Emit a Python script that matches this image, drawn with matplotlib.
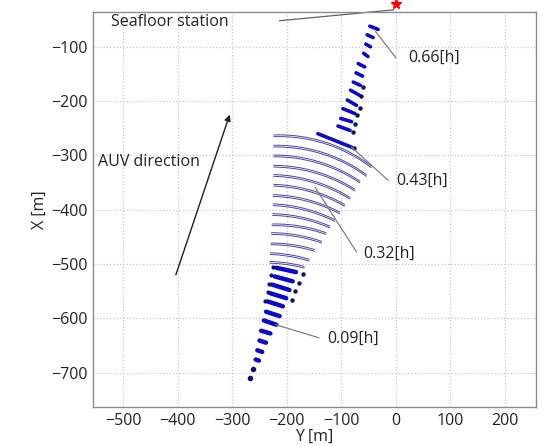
import numpy as np
import matplotlib
matplotlib.use("Agg")
import matplotlib.pyplot as plt

plt.rcParams['font.family'] = ['Open Sans', 'DejaVu Sans']

# ---------------- data (Y [m] horizontal, X [m] vertical) ----------------
station_y, station_x = 0, -21

# upper short thick dashes: left end (y0,x0) -> right end (y1,x1)
up_y0 = [-47.7, -52.6, -55, -59, -69, -73, -78, -83, -89, -97, -101, -106, -143]
up_x0 = [-62, -78, -95, -112, -131, -148, -165, -180, -198, -214, -232, -246, -260]
up_y1 = [-32.5, -41.6, -46.5, -51, -57, -61, -65, -67, -72, -75, -81, -84, -81]
up_x1 = [-68, -83, -100, -118, -137, -154, -171, -189, -208, -223, -238, -254, -285]
up_dot_y = [-61, -63, -66, -72, -75, -79, -76]
up_dot_x = [-174, -191, -212, -226, -243, -257, -287]

# middle thin arcs: left end -> right end
arc_y0 = [-224, -224, -224, -224, -224, -224, -225, -225, -226, -227, -228, -229, -230, -231]
arc_x0 = [-264, -283, -301, -320, -337, -355, -374, -391, -409, -428, -444, -463, -481, -497]
arc_y1 = [-45, -54, -66, -75, -84, -94, -103, -112, -121, -128, -136, -149, -159, -168]
arc_x1 = [-321, -337, -349, -364, -379, -392, -406, -420, -432, -444, -460, -475, -493, -506]

# lower thick dashes
lo_y0 = [-219, -222, -227, -230, -235, -238, -242, -247, -250, -254, -257]
lo_x0 = [-507, -523, -538, -554, -569, -588, -604, -623, -641, -659, -676]
lo_y1 = [-183, -189, -195, -201, -207, -213, -219, -230, -238, -245, -251]
lo_x1 = [-515, -532, -548, -563, -578, -596, -612, -628, -645, -662, -678]
lo_rdot_y = [-170, -178, -185, -190]
lo_rdot_x = [-518, -535, -550, -566]
lo_ldot_y = [-226, -229, -232, -235, -239]
lo_ldot_x = [-505, -521, -537, -552, -568]
end_dot_y = [-262, -268]
end_dot_x = [-693, -710]

x_ticks = [-500, -400, -300, -200, -100, 0, 100, 200]
y_ticks = [-700, -600, -500, -400, -300, -200, -100]

# labels: text, text position, leader start, leader end
ann_text = ['0.66[h]', '0.43[h]', '0.32[h]', '0.09[h]']
ann_pos_y = [22, 1, -60, -125]
ann_pos_x = [-121, -346, -482, -638]
ann_from_y = [-37, -81, -148, -220]
ann_from_x = [-72, -285, -359, -612]
ann_to_y = [0, -14, -72, -141]
ann_to_x = [-120, -346, -478, -636]

# ---------------- figure ----------------
fig = plt.figure(figsize=(5.48, 4.46), dpi=100)
ax = fig.add_axes([0.170, 0.0874, 0.808, 0.885])

ax.set_xlim(-555, 257)
ax.set_ylim(-763.5, -36.5)
ax.set_xticks(x_ticks)
ax.set_yticks(y_ticks)
ax.grid(True, color='#c8c8c8', linestyle=':', linewidth=0.9)
ax.set_axisbelow(True)
for s in ax.spines.values():
    s.set_color('#8c8c8c')
    s.set_linewidth(1.0)
ax.tick_params(direction='in', length=0, labelsize=11.5, colors='#222222', pad=4)
ax.set_xlabel('Y [m]', fontsize=11.5, color='#222222', labelpad=0)
ax.set_ylabel('X [m]', fontsize=11.5, color='#222222', labelpad=2)

blue = '#0b0bc8'
navy = '#10106a'
arc_c = '#4646a6'


def arc_pts(p0, p1, R=280.0, n=60):
    p0 = np.asarray(p0, float); p1 = np.asarray(p1, float)
    m = (p0 + p1) / 2
    d = p1 - p0
    c = np.hypot(*d)
    nrm = np.array([-d[1], d[0]]) / c
    if nrm[1] > 0:
        nrm = -nrm
    h = np.sqrt(max(R**2 - (c / 2) ** 2, 0))
    ctr = m + h * nrm
    a0 = np.arctan2(*(p0 - ctr)[::-1])
    a1 = np.arctan2(*(p1 - ctr)[::-1])
    t = np.linspace(a0, a1, n)
    return ctr[0] + R * np.cos(t), ctr[1] + R * np.sin(t)


# thin arcs (double stroke)
for y0, x0, y1, x1 in zip(arc_y0, arc_x0, arc_y1, arc_x1):
    for off in (-1.6, 1.6):
        px, py = arc_pts((y0, x0 + off), (y1, x1 + off))
        ax.plot(px, py, color=arc_c, lw=0.7, solid_capstyle='round')

# upper dashes
for y0, x0, y1, x1 in zip(up_y0, up_x0, up_y1, up_x1):
    ax.plot([y0, y1], [x0, x1], color=blue, lw=2.6, solid_capstyle='round')
ax.plot(up_dot_y, up_dot_x, 'o', color=navy, ms=2.2, lw=0)

# lower dashes
for y0, x0, y1, x1 in zip(lo_y0, lo_x0, lo_y1, lo_x1):
    ax.plot([y0, y1], [x0, x1], color=blue, lw=3.2, solid_capstyle='round')
ax.plot(lo_rdot_y, lo_rdot_x, 'o', color=navy, ms=2.2, lw=0)
ax.plot(lo_ldot_y, lo_ldot_x, 'o', color=navy, ms=2.0, lw=0)
ax.plot(end_dot_y, end_dot_x, 'o', color=navy, ms=3.0, lw=0)

# station
ax.plot([station_y], [station_x], marker='*', color='red', ms=8, lw=0, clip_on=False, zorder=5)
ax.plot([-213, -4], [-52, -32], color='#606060', lw=0.9, clip_on=False)
ax.text(-523, -54, 'Seafloor station', fontsize=11.5, ha='left', va='center', color='#222222')

# annotations
for t, ty, tx, fy, fx, ey, ex in zip(ann_text, ann_pos_y, ann_pos_x, ann_from_y, ann_from_x, ann_to_y, ann_to_x):
    ax.plot([fy, ey], [fx, ex], color='#808080', lw=0.9)
    ax.text(ty, tx, t, fontsize=11.5, ha='left', va='center', color='#222222')

# AUV direction arrow
ax.annotate('', xy=(-303, -220), xytext=(-405, -525),
            arrowprops=dict(arrowstyle='-|>', color='#202020', lw=1.0, mutation_scale=9))
ax.text(-546, -313, 'AUV direction', fontsize=11.5, ha='left', va='center', color='#222222')

fig.savefig('out.png', dpi=100)
